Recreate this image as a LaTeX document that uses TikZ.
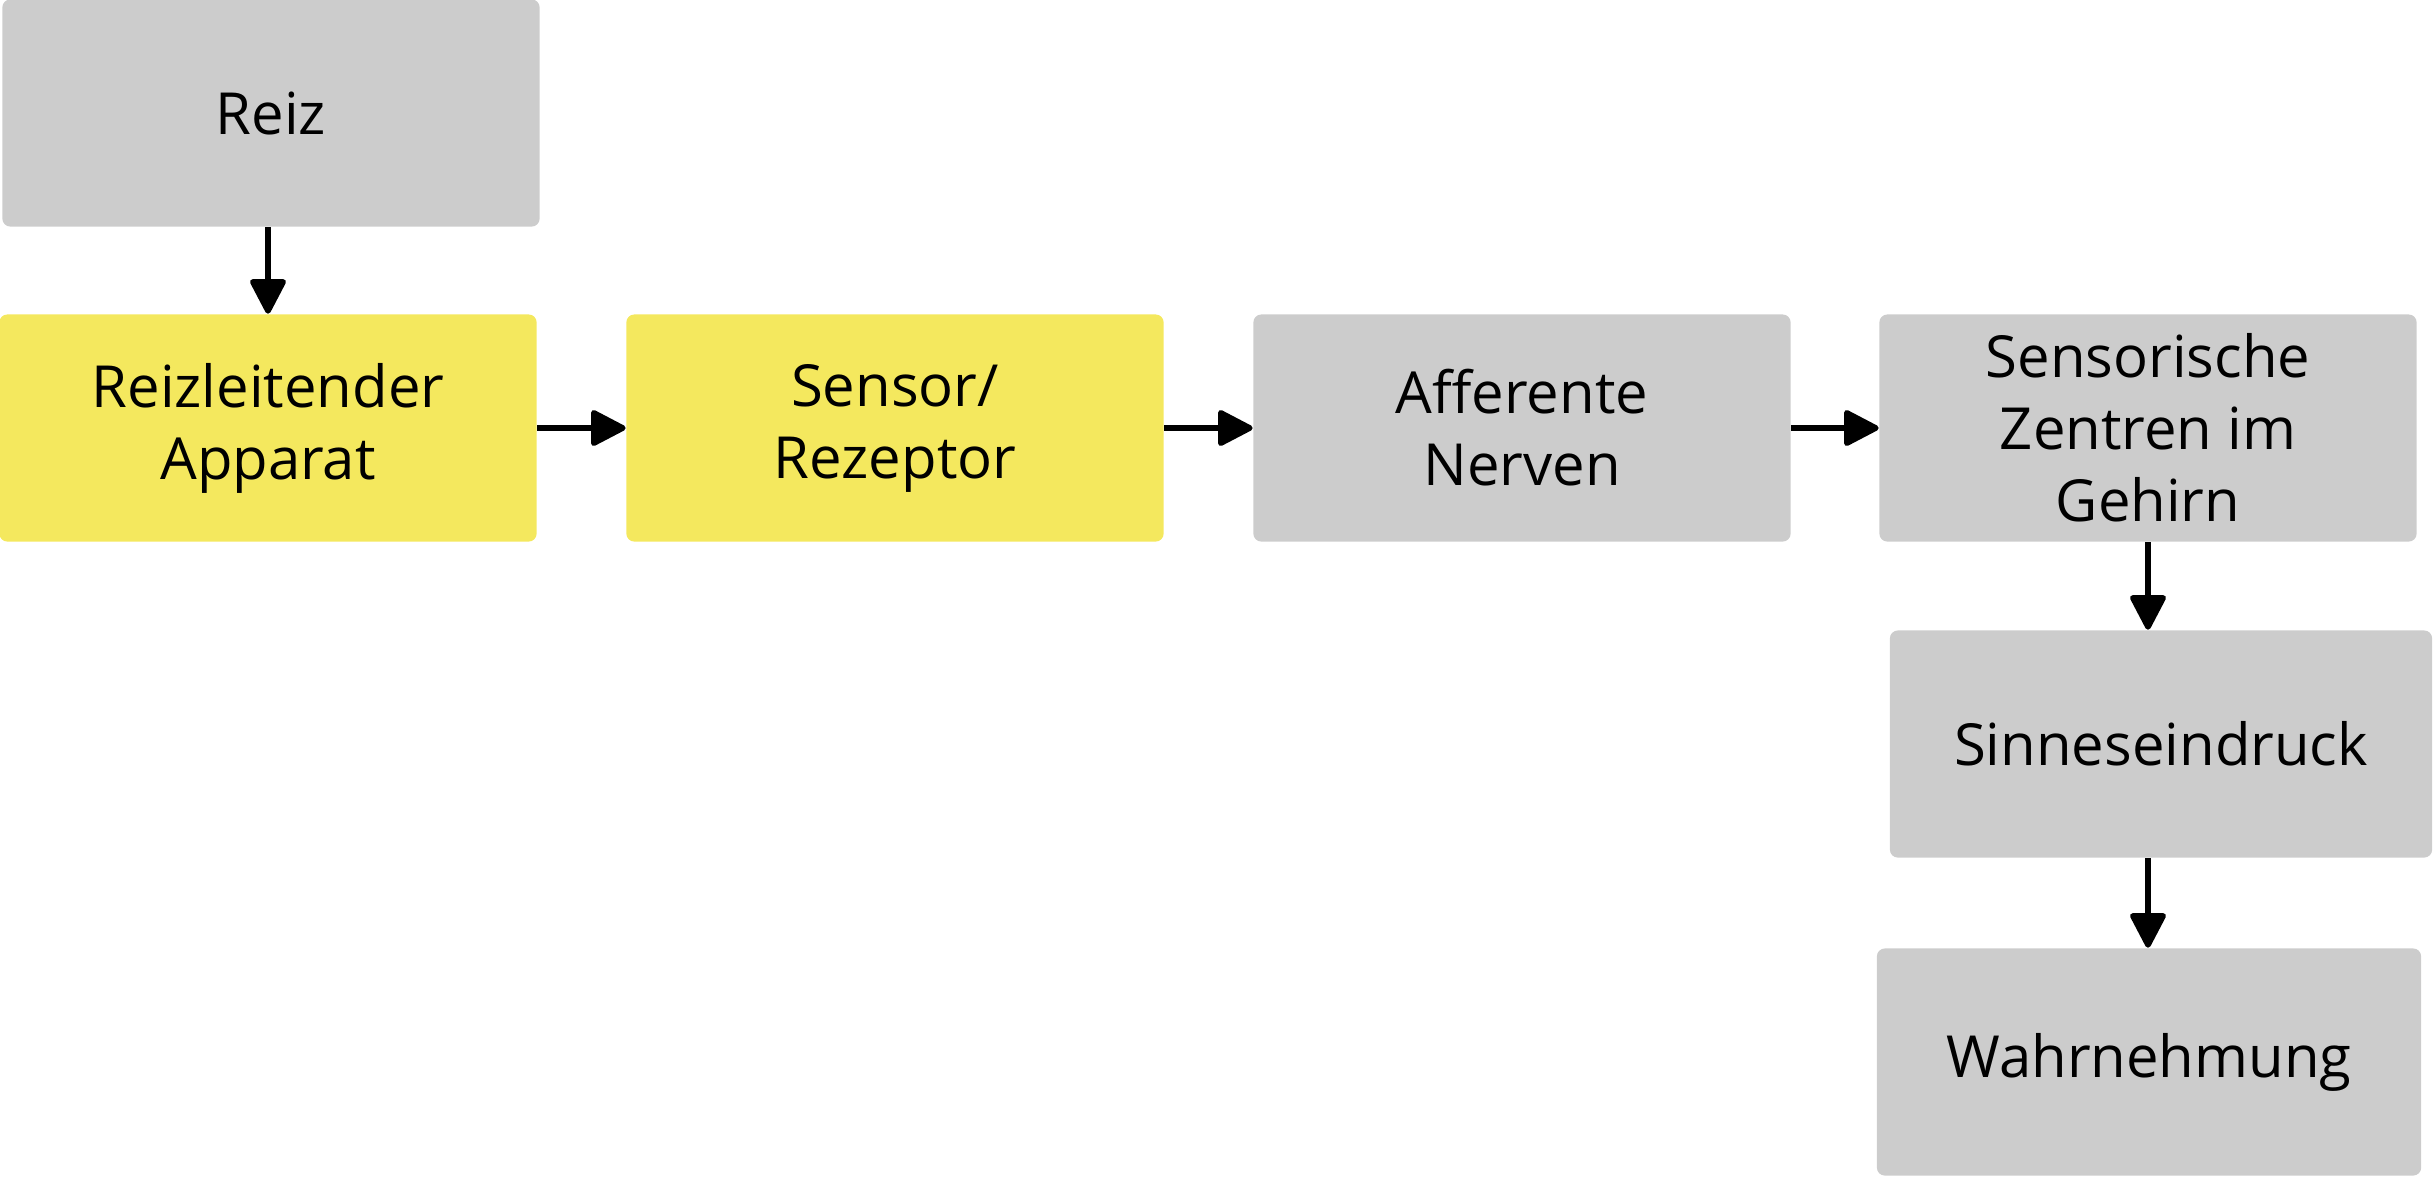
\documentclass[tikz,border=0pt]{standalone}
\usepackage{fontspec}
\setmainfont{Open Sans}
\usetikzlibrary{arrows.meta,positioning}
\definecolor{boxgray}{HTML}{CCCCCC}
\definecolor{boxyellow}{HTML}{F4E85E}

\begin{document}
\begin{tikzpicture}[x=0.01cm, y=-0.01cm, b/.style={rectangle, rounded corners=0.08cm, fill=boxgray, minimum width=5.37cm, minimum height=2.27cm, inner sep=0pt, align=center, font=\fontsize{16.5}{20.5}\selectfont}, ar/.style={-{Triangle[length=0.38cm, width=0.38cm, round]}, line width=0.055cm}]
\useasboundingbox (0,0) rectangle (2433,1178);
\node[b] (r) at (271,113) {Reiz};
\node[b, fill=boxyellow] (ra) at (268,428) {Reizleitender\\Apparat};
\node[b, fill=boxyellow] (sr) at (895,428) {Sensor/\\Rezeptor};
\node[b] (an) at (1522,428) {Afferente\\Nerven};
\node[b] (sz) at (2148,428) {Sensorische\\Zentren im\\Gehirn};
\node[b, minimum width=5.42cm] (se) at (2161,744) {Sinneseindruck};
\node[b, minimum width=5.44cm] (wa) at (2149,1062) {Wahrnehmung};
\draw[ar] (r.south -| ra.north) -- (ra.north);
\foreach \a/\b in {ra/sr,sr/an,an/sz} \draw[ar] (\a) -- (\b);
\draw[ar] (sz.south) -- (sz.south |- se.north);
\draw[ar] (sz.south |- se.south) -- (sz.south |- wa.north);
\end{tikzpicture}
\end{document}
